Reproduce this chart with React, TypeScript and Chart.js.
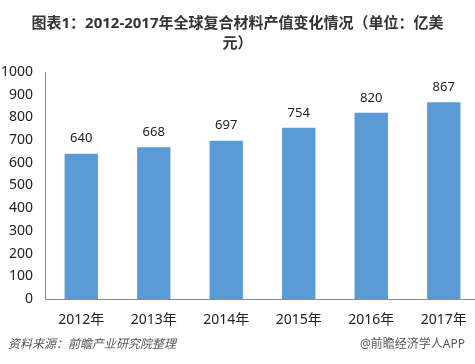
import React, { useEffect, useRef } from "react";
import { Chart, registerables } from "chart.js";

Chart.register(...registerables);

const categories = ["2012年", "2013年", "2014年", "2015年", "2016年", "2017年"];
const values = [640, 668, 697, 754, 820, 867];
const yTicks = [0, 100, 200, 300, 400, 500, 600, 700, 800, 900, 1000];
const titleLines = ["图表1：2012-2017年全球复合材料产值变化情况（单位：亿美", "元）"];
const sourceText = "资料来源：前瞻产业研究院整理";
const brandText = "@前瞻经济学人APP";

const FONT = '"Noto Sans", "Noto Sans CJK SC", sans-serif';

const decorPlugin = {
  id: "decor",
  afterDatasetsDraw(chart: any) {
    const ctx = chart.ctx;
    ctx.save();
    const meta = chart.getDatasetMeta(0);
    ctx.font = `13px ${FONT}`;
    ctx.fillStyle = "#222";
    ctx.textAlign = "center";
    ctx.textBaseline = "middle";
    meta.data.forEach((bar: any, i: number) => {
      ctx.fillText(String(values[i]), bar.x, bar.y - 15);
    });
    ctx.font = `bold 15px ${FONT}`;
    ctx.fillStyle = "#333";
    titleLines.forEach((line, i) => {
      ctx.fillText(line, 237.5, 24 + i * 20);
    });
    ctx.font = `italic 12px ${FONT}`;
    ctx.fillStyle = "#555";
    ctx.textAlign = "left";
    ctx.fillText(sourceText, 8, 345);
    ctx.font = `12px ${FONT}`;
    ctx.textAlign = "right";
    ctx.fillText(brandText, 465, 345);
    ctx.restore();
  },
};

export default function App() {
  const ref = useRef<HTMLCanvasElement>(null);
  useEffect(() => {
    if (!ref.current) return;
    const chart = new Chart(ref.current, {
      type: "bar",
      data: {
        labels: categories,
        datasets: [
          {
            data: values,
            backgroundColor: "#5B9BD5",
            barPercentage: 0.46,
            categoryPercentage: 1,
          },
        ],
      },
      options: {
        responsive: false,
        animation: false,
        layout: { padding: { top: 72, left: 0, right: 0, bottom: 0 } },
        plugins: {
          legend: { display: false },
          tooltip: { enabled: false },
          title: { display: false },
        },
        scales: {
          x: {
            grid: { display: false, drawTicks: false },
            border: { color: "#8a8a8a", width: 1 },
            ticks: { color: "#222", font: { size: 14, family: FONT }, padding: 13, maxRotation: 0 },
            afterFit(scale: any) {
              scale.height = 65;
            },
          },
          y: {
            min: 0,
            max: 1000,
            afterBuildTicks(scale: any) {
              scale.ticks = yTicks.map((v) => ({ value: v }));
            },
            grid: { display: false, drawTicks: false },
            border: { color: "#8a8a8a", width: 1 },
            ticks: {
              color: "#222",
              font: { size: 14, family: FONT },
              padding: 12,
              callback: (v: any) => String(v),
            },
            afterFit(scale: any) {
              scale.width = 45;
            },
          },
        },
      },
      plugins: [decorPlugin],
    });
    return () => chart.destroy();
  }, []);
  return (
    <div
      style={{
        position: "fixed",
        left: 0,
        top: 0,
        width: 475,
        height: 364,
        overflow: "hidden",
        background: "#fff",
      }}
    >
      <canvas ref={ref} width={480} height={364} style={{ width: 480, height: 364, display: "block" }} />
    </div>
  );
}
